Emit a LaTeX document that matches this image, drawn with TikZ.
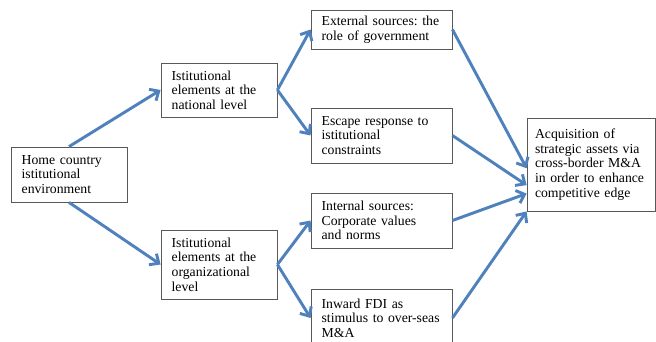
\documentclass[tikz,border=0pt]{standalone}
\usepackage{fontspec}
\setmainfont{Liberation Serif}
\usetikzlibrary{arrows.meta,calc}
\definecolor{arrowblue}{RGB}{79,129,189}
\frenchspacing
\hyphenpenalty=10000
\begin{document}
\begin{tikzpicture}[x=0.75pt,y=-0.75pt,
    box/.style={draw=black!65,line width=0.6pt,align=left,inner xsep=8pt,inner ysep=0pt,
      font=\fontsize{10.3}{11}\selectfont},
    flow/.style={draw=arrowblue,line width=2.2pt,-{Straight Barb[length=5.5pt,width=10pt]}}]
  \useasboundingbox (0,0) rectangle (656,342);
  % boxes
  \node [box,text width=71pt,minimum height=41.25pt] (home) at (69,174.5)
    {Home country\\istitutional\\environment};
  \node [box,text width=71pt,minimum height=40.5pt] (natl) at (219,90)
    {Istitutional\\elements at the\\national level};
  \node [box,text width=71pt,minimum height=51.75pt] (org) at (219,264.5)
    {Istitutional\\elements at the\\organizational\\level};
  \node [box,text width=89.8pt,minimum height=29.25pt] (ext) at (381.5,29.5)
    {External sources: the\\role of government};
  \node [box,text width=89.8pt,minimum height=41.25pt] (esc) at (381.5,135.5)
    {Escape response to\\istitutional\\constraints};
  \node [box,text width=89.8pt,minimum height=41.25pt] (int) at (381.5,220.5)
    {Internal sources:\\Corporate values\\and norms};
  \node [box,text width=89.8pt,minimum height=43.5pt] (fdi) at (381.5,318)
    {Inward FDI as\\stimulus to over-seas\\M\&A};
  \node [box,inner xsep=6pt,text width=84pt,minimum height=69.75pt] (acq) at (591,164.5)
    {Acquisition of\\strategic assets via\\cross-border M\&A\\in order to enhance\\competitive edge};
  % arrows
  \draw [flow] (home.north) -- (natl.west);
  \draw [flow] (home.south) -- (org.west);
  \draw [flow] (natl.east) -- (ext.west);
  \draw [flow] (natl.east) -- (esc.west);
  \draw [flow] (org.east) -- (int.west);
  \draw [flow] (org.east) -- (fdi.west);
  \draw [flow] (ext.east) -- ($(acq.north west)!0.54!(acq.south west)$);
  \draw [flow] (esc.east) -- ($(acq.north west)!0.72!(acq.south west)$);
  \draw [flow] (int.east) -- ($(acq.north west)!0.81!(acq.south west)$);
  \draw [flow] (fdi.east) -- (acq.south west);
\end{tikzpicture}
\end{document}
